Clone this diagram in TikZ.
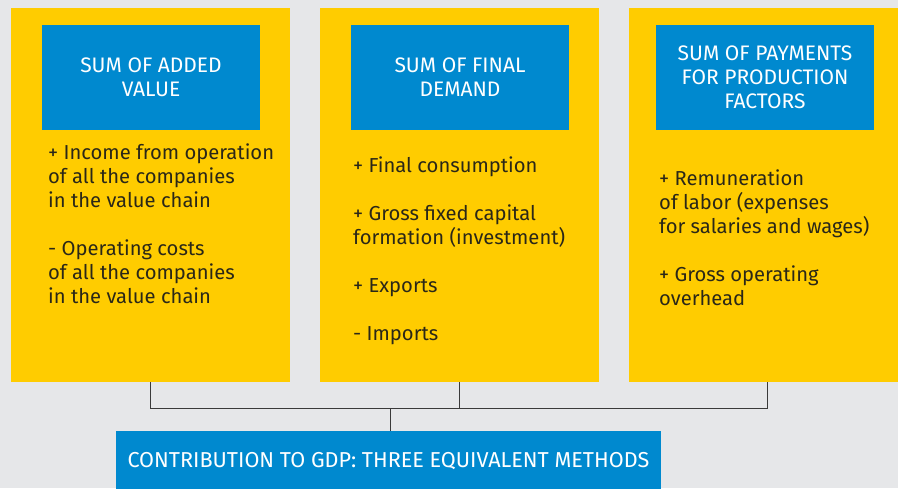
\documentclass[tikz,border=0pt]{standalone}
\usepackage{fontspec}
\setmainfont{Fira Sans}
\definecolor{bg}{HTML}{E6E7E9}
\definecolor{yel}{HTML}{FFCC00}
\definecolor{blu}{HTML}{0089CF}
\definecolor{txt}{HTML}{2A2718}
\definecolor{lin}{HTML}{3A3A3A}
\begin{document}
\begin{tikzpicture}[x=1pt,y=-1pt,
  ybox/.style={fill=yel,inner sep=0pt,minimum width=279pt,minimum height=374pt},
  hbox/.style={fill=blu,inner sep=0pt,minimum width=218pt,minimum height=105pt,
    text=white,align=center,font=\fontsize{21}{24}\selectfont},
  body/.style={inner sep=0pt,anchor=base west,align=left,text=txt,
    font=\fontsize{20.2}{24}\selectfont},
  conn/.style={draw=lin,line width=1pt}]
\useasboundingbox (0,0) rectangle (898,488);
\clip (0,0) rectangle (898,488);
\fill[bg] (0,0) rectangle (898,488);
\node[ybox] (b1) at (150.5,195) {};
\node[ybox] (b2) at (459.5,195) {};
\node[ybox] (b3) at (768.5,195) {};
\node[hbox] (h1) at (151,77.5) {SUM OF ADDED\\VALUE};
\node[hbox] (h2) at (460,77.5) {SUM OF FINAL\\DEMAND};
\node[hbox] (h3) at (765,77.5) {SUM OF PAYMENTS\\FOR PRODUCTION\\FACTORS};
\node[body] (t1) at (48,303) {+ Income from operation\\of all the companies\\in the value chain\\[24pt]- Operating costs\\of all the companies\\in the value chain};
\node[body] (t2) at (353,340) {+ Final consumption\\[24pt]+ Gross fixed capital\\formation (investment)\\[24pt]+ Exports\\[24pt]- Imports};
\node[body] (t3) at (659,305) {+ Remuneration\\of labor (expenses\\for salaries and wages)\\[24pt]+ Gross operating\\overhead};
\node[fill=blu,inner sep=0pt,minimum width=545pt,minimum height=60pt,text=white,
  font=\fontsize{21.6}{24}\selectfont] (gdp) at (388.5,461) {CONTRIBUTION TO GDP: THREE EQUIVALENT METHODS};
\coordinate (hub) at (390,408);
\draw[conn] (b1.south) |- (hub);
\draw[conn] (b3.south -| 767,0) |- (hub);
\draw[conn] (b2.south) -- (b2.south |- hub);
\draw[conn] (hub) -- (hub |- gdp.north);
\end{tikzpicture}
\end{document}
